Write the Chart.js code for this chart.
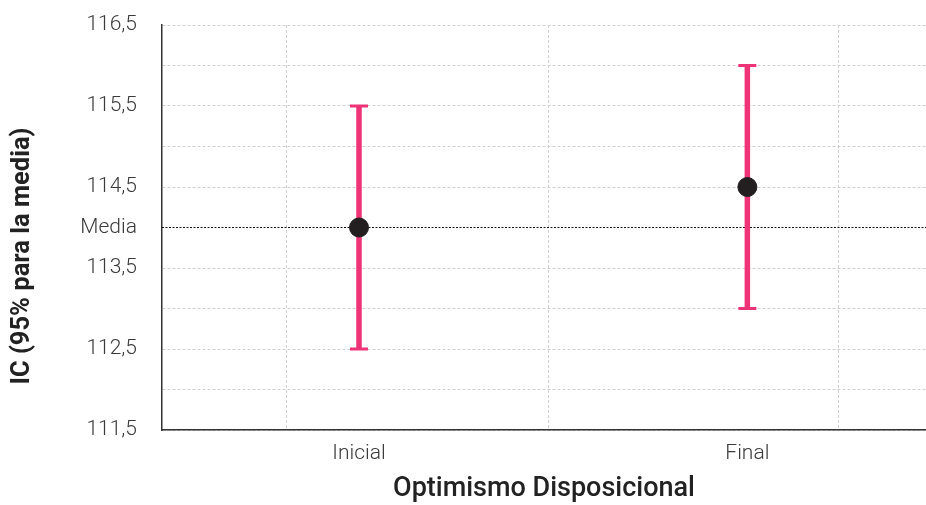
<!DOCTYPE html>
<html>
<head>
<meta charset="utf-8">
<script src="https://cdn.jsdelivr.net/npm/chart.js@4.4.1/dist/chart.umd.min.js"></script>
<style>
  html, body { margin: 0; padding: 0; background: #fff; }
  canvas { display: block; }
</style>
</head>
<body>
<canvas id="chart" width="926" height="505"></canvas>
<script>
// data
const categories = ['Inicial', 'Final'];
const categoryX = [1, 2];
const means = [114.0, 114.5];
const lower = [112.5, 113.0];
const upper = [115.5, 116.0];
const mediaValue = 114.0;
const mediaLabel = 'Media';
const yTickLabels = ['111,5', '112,5', '113,5', '114,5', '115,5', '116,5'];
const yTickValues = [111.5, 112.5, 113.5, 114.5, 115.5, 116.5];

// vertical gridlines of the original sit off the categories
const xGridValues = [0.814, 1.4875, 2.234];
const xMin = 0.4927, xMax = 2.46;

const PINK = '#EE3377';
const DARK = '#231F20';

Chart.defaults.font.family = 'Roboto';
Chart.defaults.color = '#3a3a3a';

// one line dataset per category for the error bars
const errorSets = categories.map((c, i) => ({
  type: 'line',
  label: c + ' IC',
  data: [{x: categoryX[i], y: lower[i]}, {x: categoryX[i], y: upper[i]}],
  borderColor: PINK,
  borderWidth: 5.5,
  pointStyle: 'line',
  pointRadius: 9,
  pointBorderWidth: 3,
  pointBorderColor: PINK,
  pointHoverRadius: 9,
  order: 2
}));

const meanSet = {
  type: 'scatter',
  label: 'Media',
  data: categories.map((c, i) => ({x: categoryX[i], y: means[i]})),
  backgroundColor: DARK,
  borderColor: DARK,
  pointRadius: 9.5,
  pointHoverRadius: 9.5,
  order: 1
};

const mediaSet = {
  type: 'line',
  label: 'Media global',
  data: [{x: xMin, y: mediaValue}, {x: xMax, y: mediaValue}],
  borderColor: '#111',
  borderWidth: 1,
  borderDash: [2, 1.5],
  pointRadius: 0,
  order: 3
};

new Chart(document.getElementById('chart'), {
  type: 'scatter',
  data: { datasets: [meanSet, ...errorSets, mediaSet] },
  options: {
    responsive: false,
    animation: false,
    layout: { autoPadding: false, padding: { top: 25, right: 0, left: 0, bottom: 0 } },
    plugins: { legend: { display: false }, tooltip: { enabled: false } },
    scales: {
      x: {
        type: 'linear',
        min: xMin,
        max: xMax,
        afterBuildTicks: s => {
          s.ticks = [...xGridValues, ...categoryX].sort((a, b) => a - b).map(v => ({value: v}));
        },
        afterFit: s => { s.height = 75; },
        ticks: {
          autoSkip: false,
          maxRotation: 0,
          padding: 0,
          font: { size: 21, weight: 300 },
          color: '#3a3a3a',
          callback: v => {
            const i = categoryX.indexOf(v);
            return i >= 0 ? categories[i] : '';
          }
        },
        grid: {
          // invisible tick marks give the label gap
          drawTicks: true,
          tickLength: 11,
          tickColor: 'rgba(0,0,0,0)',
          color: c => (c.tick && categoryX.includes(c.tick.value)) ? 'rgba(0,0,0,0)' : '#cfcfcf',
          lineWidth: 1
        },
        border: { display: true, color: '#333', width: 1.5, dash: [3, 2] },
        title: {
          display: true,
          text: 'Optimismo Disposicional',
          font: { size: 27, weight: 500 },
          color: '#222',
          padding: { top: 2, bottom: 0 }
        }
      },
      y: {
        type: 'linear',
        min: 111.5,
        max: 116.5,
        afterFit: s => { s.width = 162; s.paddingTop = 0; s.paddingBottom = 0; },
        ticks: {
          stepSize: 0.5,
          padding: 25,
          font: { size: 21, weight: 300 },
          color: '#3a3a3a',
          callback: v => {
            if (Math.abs(v - mediaValue) < 1e-6) return mediaLabel;
            const i = yTickValues.findIndex(t => Math.abs(t - v) < 1e-6);
            return i >= 0 ? yTickLabels[i] : '';
          }
        },
        grid: {
          drawTicks: false,
          color: c => (c.tick && Math.abs(c.tick.value - mediaValue) < 1e-6) ? 'rgba(0,0,0,0)' : '#cfcfcf',
          lineWidth: 1
        },
        border: { display: true, color: '#333', width: 1.5, dash: [3, 2] },
        title: {
          display: true,
          // trailing spaces push the rotated title down, as in the original
          text: 'IC (95% para la media)         ',
          font: { size: 25.5, weight: 'bold' },
          color: '#222',
          padding: { top: 7, bottom: 0 }
        }
      }
    }
  }
});
</script>
</body>
</html>
